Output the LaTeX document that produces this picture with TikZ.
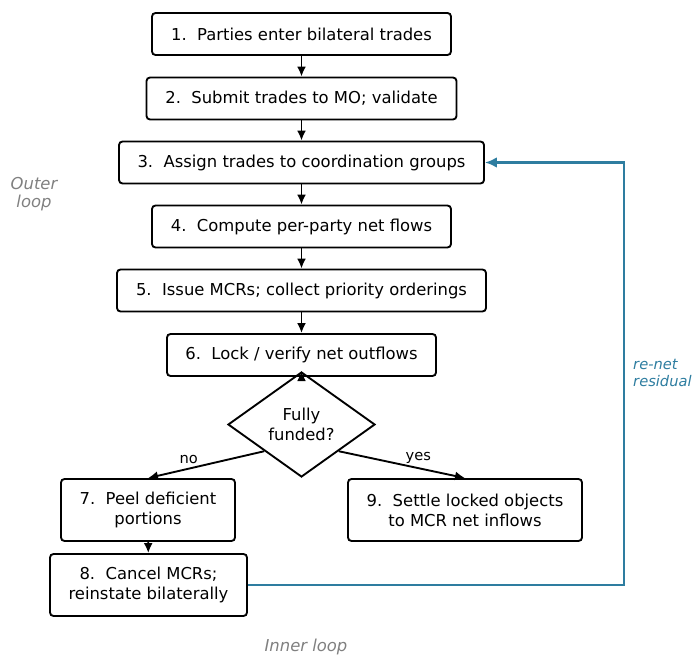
\documentclass[tikz,border=0pt]{standalone}
\usepackage{fontspec}
\setmainfont{DejaVu Sans}
\usepackage{tikz}
\usetikzlibrary{calc, shapes.geometric, positioning, arrows.meta}
\definecolor{LoopBlue}{RGB}{46, 125, 160}
\definecolor{NoteGray}{RGB}{128, 128, 128}

\tikzset{
    stepbox/.style={draw, line width=1.6pt, rounded corners=3pt, align=center,
        minimum height=1.26cm, inner xsep=0.2cm, font=\fontsize{14}{17}\selectfont},
    flow/.style={-{Latex[length=0.3cm, width=0.27cm]}, line width=1.6pt},
    note/.style={font=\fontsize{14}{16}\selectfont\itshape, align=left}
}

\begin{document}
\begin{tikzpicture}[x=0.03cm, y=-0.03cm]
    \useasboundingbox (0,0) rectangle (694,656);

    % Hauptkette
    \node[stepbox, minimum width=8.97cm] (s1) at (301.5,34) {1.\ \ Parties enter bilateral trades};
    \node[stepbox, minimum width=9.3cm] (s2) at (301.5,98.5) {2.\ \ Submit trades to MO; validate};
    \node[stepbox, minimum width=10.95cm] (s3) at (301.5,162.5) {3.\ \ Assign trades to coordination groups};
    \node[stepbox, minimum width=8.97cm] (s4) at (301.5,226.5) {4.\ \ Compute per-party net flows};
    \node[stepbox, minimum width=11.07cm] (s5) at (301.5,290.5) {5.\ \ Issue MCRs; collect priority orderings};
    \node[stepbox, minimum width=8.07cm] (s6) at (301.5,355) {6.\ \ Lock / verify net outflows};
    \draw[flow] (s1) -- (s2);
    \draw[flow] (s2) -- (s3);
    \draw[flow] (s3) -- (s4);
    \draw[flow] (s4) -- (s5);
    \draw[flow] (s5) -- (s6);

    % Entscheidung
    \node[diamond, draw, line width=1.6pt, minimum width=4.41cm, minimum height=3.15cm,
        inner sep=0pt, align=center, font=\fontsize{14}{17}\selectfont] (dec) at (301.5,424.5) {Fully\\funded?};
    \draw[flow] (s6.south) -- (dec.north);

    % Zweige
    \node[stepbox, minimum width=5.22cm, minimum height=1.86cm] (s7) at (148,510) {7.\ \ Peel deficient\\portions};
    \node[stepbox, minimum width=5.91cm, minimum height=1.86cm] (s8) at (148.5,585) {8.\ \ Cancel MCRs;\\reinstate bilaterally};
    \node[stepbox, minimum width=7.02cm, minimum height=1.86cm] (s9) at (465,510) {9.\ \ Settle locked objects\\to MCR net inflows};
    \draw[flow] (dec.south west) -- node[pos=0.65, above, font=\fontsize{12.5}{14}\selectfont] {no} (s7.north);
    \draw[flow] (dec.south east) -- node[pos=0.63, above, font=\fontsize{12.5}{14}\selectfont] {yes} (s9.north);
    \draw[flow] (s7) -- (s8);

    % Rueckkopplung
    \coordinate (turn) at (624,585);
    \draw[-{Latex[length=0.36cm, width=0.32cm]}, LoopBlue, line width=2pt] (s8.east) -- (turn) |- (s3.east);

    % Beschriftungen
    \node[note, text=NoteGray, align=center] (outer) at (34,194) {Outer\\loop};
    \node[note, text=LoopBlue, anchor=west, inner sep=0pt, font=\fontsize{12.5}{15}\selectfont\itshape] (renet) at (633,373) {re-net\\residual};
    \node[note, text=NoteGray] (inner) at (306,647) {Inner loop};
\end{tikzpicture}
\end{document}
